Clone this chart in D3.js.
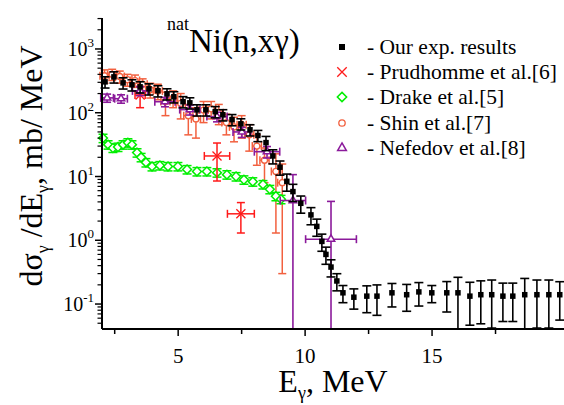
<!DOCTYPE html>
<html>
<head>
<meta charset="utf-8">
<script src="https://cdn.jsdelivr.net/npm/d3@7"></script>
<style>
  body { margin: 0; font-family: "Liberation Serif", Tinos, "Times New Roman", serif; }
  svg text, svg tspan { font-family: "Liberation Serif", Tinos, "Times New Roman", serif !important; }
</style>
</head>
<body>
<div id="chart"></div>
<script>
// --- data ---
// our exp. results (black squares)
var expE   = [2.12, 2.47, 2.83, 3.18, 3.5, 3.85, 4.2, 4.56, 4.83, 5.19, 5.46, 5.74, 6.09, 6.46, 6.76, 7.12, 7.47, 7.83, 8.14, 8.46, 8.73, 9.01, 9.28, 9.52, 9.83, 10.23, 10.46, 10.66, 10.82, 11.02, 11.25, 11.49, 11.92, 12.43, 12.83, 13.42, 14.0, 14.48, 14.99, 15.58, 16.02, 16.49, 16.92, 17.35, 17.79, 18.18, 18.65, 19.13, 19.6, 20.03];
var expV   = [305, 365, 294, 274, 255, 237, 221, 198, 178, 149, 143, 111, 111, 104, 93, 78, 67, 54, 44, 34, 21, 14, 8.4, 5.8, 3.8, 2.5, 1.65, 0.96, 0.6, 0.38, 0.23, 0.15, 0.128, 0.133, 0.133, 0.15, 0.14, 0.155, 0.15, 0.15, 0.15, 0.133, 0.14, 0.14, 0.133, 0.133, 0.14, 0.14, 0.14, 0.14];
// relative errors
var expErr = [0.2, 0.2, 0.2, 0.2, 0.2, 0.2, 0.2, 0.2, 0.2, 0.2, 0.2, 0.2, 0.2, 0.2, 0.2, 0.2, 0.2, 0.2, 0.2, 0.25, 0.25, 0.25, 0.3, 0.3, 0.3, 0.3, 0.3, 0.3, 0.3, 0.3, 0.3, 0.3, 0.35, 0.45, 0.5, 0.4, 0.45, 0.4, 0.3, 0.5, 0.75, 0.65, 0.65, 0.7, 0.6, 0.6, 0.8, 0.7, 0.7, 0.6];

// Prudhomme et al.[6]
var pruE = [3.5, 6.53, 7.47];
var pruV = [190, 21, 2.6];
var pruErr = [70, 12.5, 1.3];
var pruXErr = [0.2, 0.5, 0.53];

// Drake et al.[5]
var drkE = [2.04, 2.24, 2.43, 2.63, 2.83, 3.02, 3.18, 3.38, 3.54, 3.73, 3.97, 4.28, 4.6, 4.99, 5.35, 5.74, 6.13, 6.53, 6.92, 7.28, 7.59, 7.94, 8.34, 8.61, 8.85, 9.05];
var drkV = [40, 31.6, 28, 29, 31.6, 34, 31.6, 23.7, 20, 16.6, 14.4, 14.9, 14.4, 14.4, 12.9, 12, 12, 11.5, 10.7, 10, 8.9, 8.3, 7.5, 6.3, 4.9, 4.4];

// Shin et al.[7]
var shnE = [2.1, 2.4, 2.7, 3.0, 3.3, 3.6, 3.9, 4.2, 4.5, 4.8, 5.1, 5.4, 5.7, 6.0, 6.3, 6.6, 6.9, 7.2, 7.5, 7.8, 8.1, 8.4, 8.85, 9.1];
var shnV = [380, 400, 370, 330, 320, 280, 230, 220, 150, 170, 140, 90, 80, 110, 115, 100, 70, 60, 65, 45, 30, 18, 12, 8];
var shnErr = [90, 80, 80, 70, 70, 60, 60, 60, 60, 50, 60, 45, 40, 40, 35, 35, 25, 25, 25, 20, 15, 10, 10.7, 7.7];

// Nefedov et al.[8]
var nefE = [2.2, 2.75, 3.5, 4.48, 5.46, 6.53, 7.51, 8.5, 9.52, 11.02];
var nefV = [171, 166, 220, 149, 112, 87, 50, 24.5, 4.2, 1.04];
var nefErr = [25, 25, 35, 25, 20, 15, 9, 5, 6.5, 3.03];
var nefXErr = [0.25, 0.25, 0.3, 0.4, 0.4, 0.4, 0.35, 0.5, 0.5, 1.0];

var xTicks = [5, 10, 15];
var xMinor = [2.5, 7.5, 12.5, 17.5];
var yDecades = [-1, 0, 1, 2, 3];

var width = 564, height = 405;
var svg = d3.select("#chart").append("svg")
  .attr("width", width).attr("height", height);

// serif text helper
function txt(g, size) {
  return g.append("text")
    .style("font-family", "'Liberation Serif'")
    .attr("font-size", size);
}

var x = d3.scaleLinear().domain([2, 20]).range([102, 559]);
var y = d3.scaleLog().domain([0.0406, 3060]).range([329, 18]);
var yMin = 0.0406;

function yc(v) { return y(Math.max(v, yMin)); }

var plot = svg.append("g");

// generic error bars
function errBars(g, E, V, lo, hi, xe, color, cap, sw) {
  E.forEach(function (e, i) {
    var cx = x(e), cy = y(V[i]);
    var top = yc(hi[i]), bot = yc(lo[i]);
    g.append("line").attr("x1", cx).attr("x2", cx).attr("y1", top).attr("y2", bot)
      .attr("stroke", color).attr("stroke-width", sw);
    g.append("line").attr("x1", cx - cap).attr("x2", cx + cap).attr("y1", top).attr("y2", top)
      .attr("stroke", color).attr("stroke-width", sw);
    if (lo[i] > yMin)
      g.append("line").attr("x1", cx - cap).attr("x2", cx + cap).attr("y1", bot).attr("y2", bot)
        .attr("stroke", color).attr("stroke-width", sw);
    if (xe) {
      var l = x(e - xe[i]), r = x(e + xe[i]);
      g.append("line").attr("x1", l).attr("x2", r).attr("y1", cy).attr("y2", cy)
        .attr("stroke", color).attr("stroke-width", sw);
      g.append("line").attr("x1", l).attr("x2", l).attr("y1", cy - cap).attr("y2", cy + cap)
        .attr("stroke", color).attr("stroke-width", sw);
      g.append("line").attr("x1", r).attr("x2", r).attr("y1", cy - cap).attr("y2", cy + cap)
        .attr("stroke", color).attr("stroke-width", sw);
    }
  });
}

var cShin = "#f2603f", cDrake = "#00ee00", cPru = "#ff1a1a", cNef = "#8b1a9b";

// Shin
var gShin = plot.append("g");
errBars(gShin, shnE, shnV,
  shnV.map(function (v, i) { return v - shnErr[i]; }),
  shnV.map(function (v, i) { return v + shnErr[i]; }),
  shnE.map(function () { return 0.18; }), cShin, 4, 1.5);
gShin.selectAll("circle").data(shnE).enter().append("circle")
  .attr("cx", function (d) { return x(d); })
  .attr("cy", function (d, i) { return y(shnV[i]); })
  .attr("r", 3).attr("fill", "#fff").attr("stroke", cShin).attr("stroke-width", 1.3);

// Drake
var gDrk = plot.append("g");
errBars(gDrk, drkE, drkV,
  drkV.map(function (v) { return v * 0.85; }),
  drkV.map(function (v) { return v * 1.15; }),
  null, cDrake, 4.5, 1.5);
gDrk.selectAll("path").data(drkE).enter().append("path")
  .attr("d", d3.symbol().type(d3.symbolDiamond2).size(50))
  .attr("transform", function (d, i) { return "translate(" + x(d) + "," + y(drkV[i]) + ")"; })
  .attr("fill", "#fff").attr("stroke", cDrake).attr("stroke-width", 1.5);

// Prudhomme
var gPru = plot.append("g");
errBars(gPru, pruE, pruV,
  pruV.map(function (v, i) { return v - pruErr[i]; }),
  pruV.map(function (v, i) { return v + pruErr[i]; }),
  pruXErr, cPru, 4, 1.5);
gPru.selectAll("path").data(pruE).enter().append("path")
  .attr("d", d3.symbol().type(d3.symbolX).size(55))
  .attr("transform", function (d, i) { return "translate(" + x(d) + "," + y(pruV[i]) + ")"; })
  .attr("fill", "none").attr("stroke", cPru).attr("stroke-width", 1.3);

// Nefedov
var gNef = plot.append("g");
errBars(gNef, nefE, nefV,
  nefV.map(function (v, i) { return v - nefErr[i]; }),
  nefV.map(function (v, i) { return v + nefErr[i]; }),
  nefXErr, cNef, 4, 1.6);
gNef.selectAll("path").data(nefE).enter().append("path")
  .attr("d", d3.symbol().type(d3.symbolTriangle2).size(40))
  .attr("transform", function (d, i) { return "translate(" + x(d) + "," + y(nefV[i]) + ")"; })
  .attr("fill", "#fff").attr("stroke", cNef).attr("stroke-width", 1.5);

// our exp
var gExp = plot.append("g");
errBars(gExp, expE, expV,
  expV.map(function (v, i) { return v * (1 - expErr[i]); }),
  expV.map(function (v, i) { return v * (1 + expErr[i]); }),
  null, "#000", 4.5, 1.6);
gExp.selectAll("rect").data(expE).enter().append("rect")
  .attr("x", function (d) { return x(d) - 2.75; })
  .attr("y", function (d, i) { return y(expV[i]) - 2.75; })
  .attr("width", 5.5).attr("height", 5.5).attr("fill", "#000");

// --- axes ---
var ax = svg.append("g");
ax.append("line").attr("x1", 102).attr("x2", 564).attr("y1", 329).attr("y2", 329)
  .attr("stroke", "#000").attr("stroke-width", 2);
ax.append("line").attr("x1", 102).attr("x2", 102).attr("y1", 18).attr("y2", 329)
  .attr("stroke", "#000").attr("stroke-width", 2);

xTicks.forEach(function (t) {
  ax.append("line").attr("x1", x(t)).attr("x2", x(t)).attr("y1", 329).attr("y2", 336)
    .attr("stroke", "#000").attr("stroke-width", 1.5);
  txt(ax, 21).attr("x", x(t)).attr("y", 363).attr("text-anchor", "middle").text(t);
});
xMinor.forEach(function (t) {
  ax.append("line").attr("x1", x(t)).attr("x2", x(t)).attr("y1", 329).attr("y2", 334)
    .attr("stroke", "#000").attr("stroke-width", 1.5);
});

yDecades.forEach(function (p) {
  var v = Math.pow(10, p);
  ax.append("line").attr("x1", 95).attr("x2", 102).attr("y1", y(v)).attr("y2", y(v))
    .attr("stroke", "#000").attr("stroke-width", 1.5);
  var t = txt(ax, 20).attr("x", 94).attr("y", y(v) + 7).attr("text-anchor", "end");
  t.append("tspan").text("10");
  t.append("tspan").attr("dy", -9).attr("font-size", 13).text(p);
});
// minor log ticks
var minor = [];
for (var p = -2; p <= 3; p++) {
  for (var m = 2; m <= 9; m++) {
    var v = m * Math.pow(10, p);
    if (v >= yMin && v <= 3060) minor.push(v);
  }
}
minor.forEach(function (v) {
  ax.append("line").attr("x1", 97.5).attr("x2", 102).attr("y1", y(v)).attr("y2", y(v))
    .attr("stroke", "#000").attr("stroke-width", 1.2);
});

// axis titles
var yl = txt(svg, 32).attr("transform", "translate(42,166) rotate(-90)")
  .attr("text-anchor", "middle");
yl.append("tspan").text("d\u03c3");
yl.append("tspan").attr("dy", 7).attr("font-size", 18).text("\u03b3");
yl.append("tspan").attr("dy", -7).text(" /dE");
yl.append("tspan").attr("dy", 7).attr("font-size", 18).text("\u03b3");
yl.append("tspan").attr("dy", -7).text(", mb/ MeV");

var xl = txt(svg, 32).attr("x", 333).attr("y", 392).attr("text-anchor", "middle");
xl.append("tspan").text("E");
xl.append("tspan").attr("dy", 7).attr("font-size", 18).text("\u03b3");
xl.append("tspan").attr("dy", -7).text(", MeV");

// title
var tt = txt(svg, 33).attr("x", 167).attr("y", 52);
tt.append("tspan").attr("dy", -22).attr("font-size", 18).text("nat");
tt.append("tspan").attr("dy", 22).text("Ni(n,x\u03b3)");

// --- legend ---
var legNames = ["- Our exp. results", "- Prudhomme et al.[6]", "- Drake et al.[5]", "- Shin et al.[7]", "- Nefedov et al.[8]"];
var legY = [47, 72, 97, 123, 148];
var lg = svg.append("g");
legNames.forEach(function (n, i) {
  txt(lg, 21.5).attr("x", 367).attr("y", legY[i] + 7).text(n);
});
lg.append("rect").attr("x", 339).attr("y", legY[0] - 3).attr("width", 6).attr("height", 6).attr("fill", "#000");
lg.append("path").attr("d", d3.symbol().type(d3.symbolX).size(60)())
  .attr("transform", "translate(342," + legY[1] + ")").attr("fill", "none").attr("stroke", cPru).attr("stroke-width", 1.3);
lg.append("path").attr("d", d3.symbol().type(d3.symbolDiamond2).size(55)())
  .attr("transform", "translate(342," + legY[2] + ")").attr("fill", "#fff").attr("stroke", cDrake).attr("stroke-width", 1.5);
lg.append("circle").attr("cx", 342).attr("cy", legY[3]).attr("r", 3.2)
  .attr("fill", "#fff").attr("stroke", cShin).attr("stroke-width", 1.3);
lg.append("path").attr("d", d3.symbol().type(d3.symbolTriangle2).size(55)())
  .attr("transform", "translate(342," + legY[4] + ")").attr("fill", "#fff").attr("stroke", cNef).attr("stroke-width", 1.5);
</script>
</body>
</html>
